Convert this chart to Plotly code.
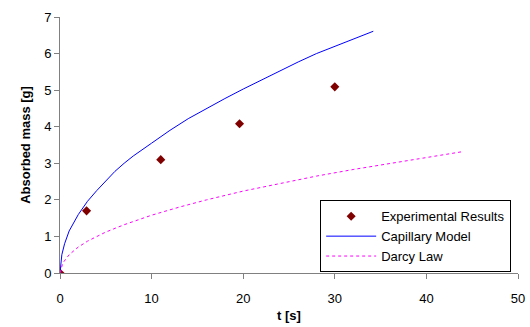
import plotly.graph_objects as go

# Experimental data
exp_t = [0, 2.9, 11.0, 19.6, 30.0]
exp_m = [0, 1.70, 3.10, 4.08, 5.09]

# Capillary model
cap_t = [0, 0.2, 0.5, 1, 2, 3, 4, 5, 6, 7, 8, 10, 12, 14, 16, 18, 20, 22, 24, 26, 28, 30, 32, 34.2]
cap_m = [0, 0.5, 0.8, 1.15, 1.6, 1.96, 2.25, 2.52, 2.78, 3.0, 3.2, 3.55, 3.9, 4.22, 4.5, 4.77, 5.03, 5.28, 5.53, 5.77, 6.0, 6.2, 6.4, 6.61]

# Darcy law
dar_t = [0, 0.3, 1, 2, 3, 5, 7, 10, 13, 16, 20, 24, 28, 32, 36, 40, 44]
dar_m = [0, 0.27, 0.5, 0.71, 0.87, 1.12, 1.32, 1.58, 1.8, 2.0, 2.24, 2.45, 2.65, 2.83, 3.0, 3.16, 3.32]

x_ticks = [0, 10, 20, 30, 40, 50]
y_ticks = [0, 1, 2, 3, 4, 5, 6, 7]

fig = go.Figure()
fig.add_trace(go.Scatter(x=exp_t, y=exp_m, mode="markers", name="Experimental Results",
                         marker=dict(symbol="diamond", color="#800000", size=7)))
fig.add_trace(go.Scatter(x=cap_t, y=cap_m, mode="lines", name="Capillary Model",
                         line=dict(color="#0000FF", width=1)))
fig.add_trace(go.Scatter(x=dar_t, y=dar_m, mode="lines", name="Darcy Law",
                         line=dict(color="#FF00FF", width=1, dash="dot")))

font = "Liberation Sans, Arial, sans-serif"
fig.update_layout(
    width=530, height=327,
    margin=dict(l=60, r=12, t=17, b=54, autoexpand=False),
    paper_bgcolor="white", plot_bgcolor="white",
    font=dict(family=font, size=13, color="black"),
    showlegend=True,
    legend=dict(x=0.568, y=0.284, xanchor="left", yanchor="top",
                bordercolor="black", borderwidth=1, bgcolor="white",
                font=dict(size=13), itemwidth=50, tracegroupgap=0),
)
fig.update_xaxes(range=[0, 50], tickvals=x_ticks, showgrid=False, zeroline=False,
                 showline=True, linecolor="#808080", linewidth=1, automargin=False,
                 ticks="outside", ticklen=5, tickcolor="#808080", ticklabelstandoff=8,
                 title=dict(text="<b>t [s]</b>", font=dict(size=13), standoff=6))
fig.update_yaxes(range=[0, 7], tickvals=y_ticks, showgrid=False, zeroline=False,
                 showline=True, linecolor="#808080", linewidth=1, automargin=False,
                 ticks="outside", ticklen=5, tickcolor="#808080",
                 title=dict(text="<b>Absorbed mass [g]</b>", font=dict(size=13), standoff=10))

fig.write_html("out.html")
